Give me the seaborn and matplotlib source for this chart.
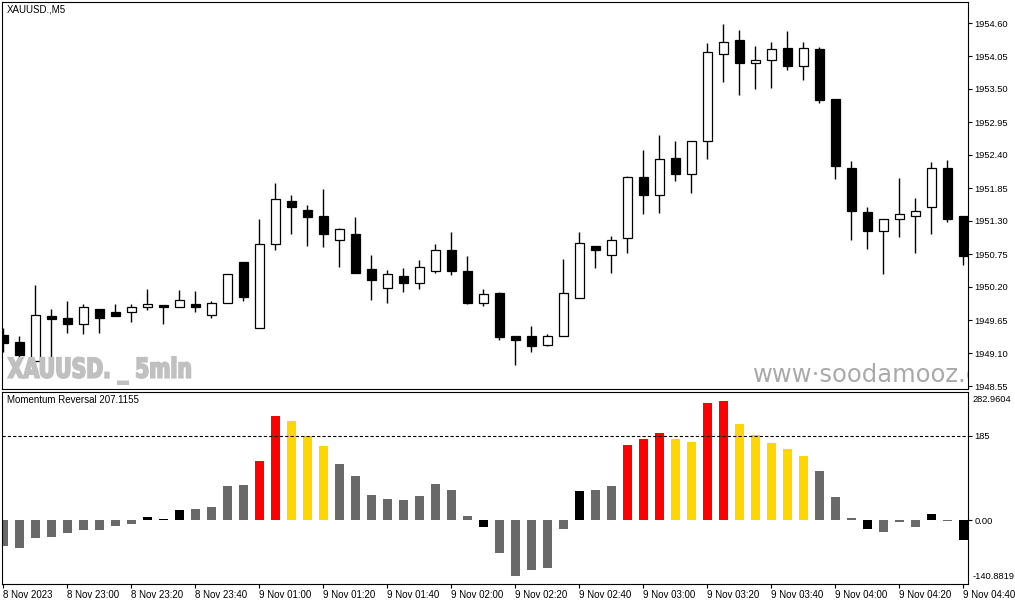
import numpy as np
import pandas as pd
import matplotlib
matplotlib.use("Agg")
import matplotlib.pyplot as plt
import seaborn as sns
from matplotlib.textpath import TextPath
from matplotlib.patches import PathPatch
from matplotlib.font_manager import FontProperties
from matplotlib.transforms import Affine2D

sns.set_theme(style="white")
plt.rcParams['font.family'] = ['Liberation Sans', 'DejaVu Sans']

# XAUUSD M5 candles
opens = [1949.40, 1949.29, 1948.97, 1949.72, 1949.69, 1949.58, 1949.84, 1949.78, 1949.78, 1949.87,
         1949.90, 1949.86, 1949.92, 1949.74, 1949.93, 1950.61, 1949.52, 1950.91, 1951.63, 1951.49,
         1951.38, 1950.99, 1951.09, 1950.50, 1950.19, 1950.38, 1950.27, 1950.46, 1950.82, 1950.47,
         1949.93, 1950.10, 1949.38, 1949.38, 1949.24, 1949.39, 1950.01, 1950.88, 1950.74, 1951.01,
         1952.03, 1951.73, 1952.35, 1952.09, 1952.63, 1954.09, 1954.32, 1953.94, 1953.99, 1954.18,
         1953.89, 1954.16, 1953.33, 1952.19, 1951.45, 1951.13, 1951.34, 1951.39, 1951.53, 1952.18,
         1951.38]
highs = [1949.51, 1949.38, 1950.23, 1949.84, 1949.97, 1949.92, 1949.84, 1949.92, 1949.92, 1950.16,
         1949.90, 1950.15, 1950.13, 1949.97, 1950.41, 1950.61, 1951.33, 1951.94, 1951.73, 1951.56,
         1951.83, 1951.18, 1951.37, 1950.73, 1950.48, 1950.52, 1950.65, 1950.92, 1951.12, 1950.72,
         1950.17, 1950.11, 1949.38, 1949.55, 1949.42, 1950.67, 1951.11, 1950.88, 1951.05, 1952.05,
         1952.48, 1952.73, 1952.63, 1952.63, 1954.27, 1954.58, 1954.48, 1954.21, 1954.28, 1954.47,
         1954.28, 1954.20, 1953.34, 1952.30, 1951.53, 1951.33, 1952.01, 1951.68, 1952.28, 1952.31,
         1951.38]
lows = [1949.12, 1949.02, 1948.95, 1948.95, 1949.43, 1949.41, 1949.43, 1949.71, 1949.61, 1949.81,
        1949.58, 1949.86, 1949.78, 1949.69, 1949.93, 1949.96, 1949.52, 1950.81, 1951.08, 1950.88,
        1950.86, 1950.54, 1950.44, 1949.98, 1949.94, 1950.12, 1950.16, 1950.44, 1950.40, 1949.92,
        1949.89, 1949.31, 1948.90, 1949.11, 1949.21, 1949.39, 1950.01, 1950.51, 1950.44, 1950.77,
        1951.42, 1951.44, 1951.97, 1951.77, 1952.34, 1953.62, 1953.40, 1953.50, 1953.52, 1953.81,
        1953.65, 1953.27, 1952.00, 1950.98, 1950.84, 1950.42, 1951.04, 1950.77, 1951.08, 1951.29,
        1950.56]
closes = [1949.27, 1949.06, 1949.73, 1949.66, 1949.59, 1949.86, 1949.69, 1949.72, 1949.86, 1949.91,
          1949.87, 1949.99, 1949.86, 1949.94, 1950.41, 1950.04, 1950.91, 1951.66, 1951.54, 1951.37,
          1951.09, 1951.16, 1950.44, 1950.31, 1950.41, 1950.26, 1950.54, 1950.82, 1950.46, 1949.94,
          1950.08, 1949.37, 1949.31, 1949.22, 1949.38, 1950.10, 1950.94, 1950.82, 1950.99, 1952.03,
          1951.74, 1952.34, 1952.09, 1952.63, 1954.11, 1954.29, 1953.94, 1953.99, 1954.16, 1953.89,
          1954.18, 1953.32, 1952.21, 1951.46, 1951.14, 1951.33, 1951.41, 1951.47, 1952.18, 1951.33,
          1950.71]

# Momentum Reversal histogram
momentum = [-58, -62, -40, -38, -28, -22, -22, -13, -9, 7,
            1.5, 22, 24.5, 29, 75.5, 78, 130, 229, 218, 184,
            163, 123.5, 98, 55, 46.5, 44, 53, 79, 66, 9,
            -15, -72, -123.5, -110, -105, -19, 64, 66, 75, 165,
            178, 191.5, 178, 172, 258, 262, 211, 187, 169.5, 157,
            141, 108, 50.5, 4, -20, -26, -4, -15, 13, -1.5,
            -44]
momentum_state = ['flat'] * 9 + ['turn'] * 3 + ['flat'] * 4 + ['strong'] * 2 + ['fade'] * 3 \
    + ['flat'] * 9 + ['turn'] + ['flat'] * 5 + ['turn'] + ['flat'] * 2 + ['strong'] * 3 \
    + ['fade'] * 2 + ['strong'] * 2 + ['fade'] * 5 + ['flat'] * 3 + ['turn'] + ['flat'] * 3 \
    + ['turn'] + ['flat'] + ['turn']
state_colors = {'flat': '#696969', 'turn': '#000000', 'strong': '#FF0000', 'fade': '#FFD700'}

time_labels = ['8 Nov 2023', '8 Nov 23:00', '8 Nov 23:20', '8 Nov 23:40', '9 Nov 01:00',
               '9 Nov 01:20', '9 Nov 01:40', '9 Nov 02:00', '9 Nov 02:20', '9 Nov 02:40',
               '9 Nov 03:00', '9 Nov 03:20', '9 Nov 03:40', '9 Nov 04:00', '9 Nov 04:20',
               '9 Nov 04:40']
price_ticks = [1948.55, 1949.10, 1949.65, 1950.20, 1950.75, 1951.30, 1951.85, 1952.40,
               1952.95, 1953.50, 1954.05, 1954.60]
mom_max = 282.9604
mom_min = -140.8819
mom_level = 185

fig = plt.figure(figsize=(10.15, 6.05), dpi=100)
ax_price = fig.add_axes([2 / 1015, 1 - 389 / 605, 966 / 1015, 387 / 605])
ax_mom = fig.add_axes([2 / 1015, 1 - 584 / 605, 966 / 1015, 192.5 / 605])

# candles
o = np.array(opens)
c = np.array(closes)
x = np.arange(len(o))
up = c > o
ax_price.vlines(x, lows, highs, color='black', lw=1.0, zorder=2)
ax_price.bar(x, np.abs(c - o), bottom=np.minimum(o, c), width=0.56,
             color=np.where(up, 'white', 'black'), edgecolor='black', linewidth=0.9, zorder=3)
ax_price.set_xlim(-0.081, 60.29)
ax_price.set_ylim(1948.50, 1954.95)
ax_price.set_xticks([])
ax_price.yaxis.tick_right()
ax_price.set_yticks(price_ticks)
ax_price.set_yticklabels([f'{p:.2f}' for p in price_ticks])
ax_price.tick_params(axis='y', right=True, left=False, labelright=True, labelleft=False,
                     direction='out', length=3, width=0.8, pad=1.5, labelsize=6.7, colors='black')

# momentum histogram
mom_df = pd.DataFrame({'bar': x, 'value': momentum, 'state': momentum_state})
sns.barplot(data=mom_df, x='bar', y='value', hue='state', palette=state_colors, dodge=False,
            width=0.56, saturation=1, legend=False, linewidth=0, errorbar=None,
            native_scale=True, ax=ax_mom)
ax_mom.axhline(mom_level, color='black', lw=0.8, ls=(0, (2.9, 1.9)))
ax_mom.set_xlim(-0.081, 60.29)
ax_mom.set_ylim(mom_min, mom_max)
ax_mom.set_xlabel('')
ax_mom.set_ylabel('')
ax_mom.set_xticks(np.arange(0, 61, 4))
ax_mom.set_xticklabels(time_labels, ha='left')
ax_mom.yaxis.tick_right()
ax_mom.set_yticks([0, mom_level])
ax_mom.set_yticklabels(['0.00', '185'])
ax_mom.tick_params(axis='y', right=True, left=False, labelright=True, labelleft=False,
                   direction='out', length=3, width=0.8, pad=1.5, labelsize=6.7, colors='black')
ax_mom.tick_params(axis='x', bottom=True, direction='out', length=3, width=0.8, pad=1.5,
                   labelsize=7, colors='black')
ax_mom.text(1 + 5 / 966, 1 - 3.5 / 192.5, f'{mom_max:.4f}', transform=ax_mom.transAxes,
            va='top', ha='left', fontsize=6.7, color='black')
ax_mom.text(1 + 5 / 966, 3 / 192.5, f'{mom_min:.4f}', transform=ax_mom.transAxes,
            va='bottom', ha='left', fontsize=6.7, color='black')

for ax in (ax_price, ax_mom):
    for sp in ax.spines.values():
        sp.set_color('black')
        sp.set_linewidth(0.8)
    ax.grid(False)

fig.text(7 / 1015, 1 - 5 / 605, 'XAUUSD.,M5', va='top', ha='left', fontsize=7, color='black')
fig.text(7 / 1015, 1 - 395 / 605, 'Momentum Reversal 207.1155', va='top', ha='left',
         fontsize=7, color='black')

# watermarks
fp = FontProperties(family='DejaVu Sans', weight='bold', stretch='condensed')
tp = TextPath((0, 0), 'XAUUSD. _ 5min', size=30, prop=fp)
ext = tp.get_extents()
tr = Affine2D().translate(-ext.x0, -ext.y0).scale(182 / ext.width, 27 / ext.height) \
    .translate(8.3, 605 - 384)
fig.add_artist(PathPatch(tp, transform=tr, facecolor='#C0C0C0', edgecolor='#C0C0C0',
                         linewidth=1.4, joinstyle='miter', zorder=10))

ax_price.text((753 - 2) / 966, (389 - 382.3) / 387, 'www·soodamooz.com', transform=ax_price.transAxes,
              va='baseline', ha='left', fontsize=17.5, family='DejaVu Sans', color='#AAAAAA',
              clip_on=True, zorder=10)

fig.savefig('out.png', dpi=100)
